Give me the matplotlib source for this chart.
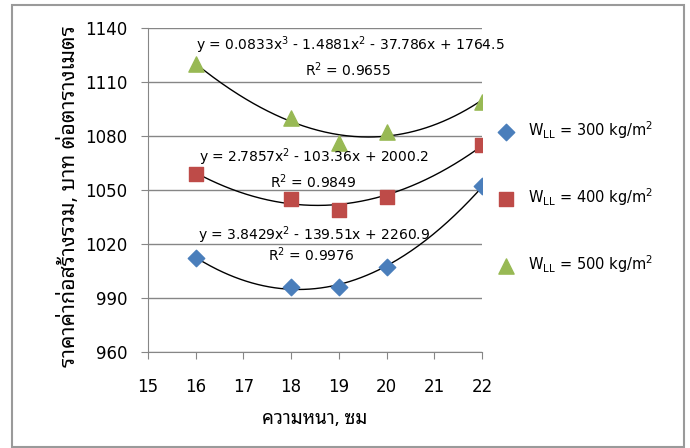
import numpy as np
import matplotlib
matplotlib.use("Agg")
import matplotlib.pyplot as plt
from matplotlib.patches import Rectangle

# thickness (cm) and total cost per m2
thickness = [16, 18, 19, 20, 22]
cost_300 = [1012, 996, 996, 1007, 1052]
cost_400 = [1059, 1045, 1039, 1046, 1075]
cost_500 = [1120, 1090, 1076, 1082, 1099]

# trendline coefficients shown on the chart
fit_300 = [3.8429, -139.51, 2260.9]
fit_400 = [2.7857, -103.36, 2000.2]
fit_500 = [0.0833, -1.4881, -37.786, 1764.5]

labels = [r"W$_{\rm LL}$ = 300 kg/m$^2$", r"W$_{\rm LL}$ = 400 kg/m$^2$", r"W$_{\rm LL}$ = 500 kg/m$^2$"]
x_ticks = [15, 16, 17, 18, 19, 20, 21, 22]
y_ticks = [960, 990, 1020, 1050, 1080, 1110, 1140]

thai = ['Noto Sans Thai Looped', 'DejaVu Sans']

fig = plt.figure(figsize=(6.9, 4.48), dpi=100)
ax = fig.add_axes([0.2145, 0.2143, 0.4841, 0.7232])

# border around the whole chart
fig.patches.append(Rectangle((12 / 690, 1 - 447 / 448), 672 / 690, 442 / 448,
                             transform=fig.transFigure, fill=False,
                             edgecolor='#9a9a9a', linewidth=1.5))

xs = np.linspace(16, 22, 200)
for fit in [fit_300, fit_400, fit_500]:
    ax.plot(xs, np.polyval(fit, xs), color='black', linewidth=1, zorder=2)

ax.scatter(thickness, cost_300, marker='D', s=70, color='#4a7ebb', label=labels[0], zorder=3)
ax.scatter(thickness, cost_400, marker='s', s=110, color='#be4b48', label=labels[1], zorder=3)
ax.scatter(thickness, cost_500, marker='^', s=120, color='#98b954', label=labels[2], zorder=3)

ax.set_xlim(15, 22)
ax.set_ylim(960, 1140)
ax.set_xticks(x_ticks)
ax.set_yticks(y_ticks)
ax.grid(axis='y', color='#868686', linewidth=1)
ax.set_axisbelow(True)
for s in ['top', 'right']:
    ax.spines[s].set_visible(False)
for s in ['left', 'bottom']:
    ax.spines[s].set_color('#868686')
ax.tick_params(colors='#868686', length=5, labelsize=12, labelcolor='black')
ax.tick_params(axis='x', pad=14)
ax.tick_params(axis='y', pad=10)

# trendline equations
eq_kw = dict(fontsize=10, ha='center', va='center', zorder=4)
ax.text(0.605, 0.948, r"y = 0.0833x$^3$ - 1.4881x$^2$ - 37.786x + 1764.5", transform=ax.transAxes, **eq_kw)
ax.text(0.60, 0.87, r"R$^2$ = 0.9655", transform=ax.transAxes, **eq_kw)
ax.text(0.497, 0.602, r"y = 2.7857x$^2$ - 103.36x + 2000.2", transform=ax.transAxes, **eq_kw)
ax.text(0.494, 0.525, r"R$^2$ = 0.9849", transform=ax.transAxes, **eq_kw)
ax.text(0.497, 0.361, r"y = 3.8429x$^2$ - 139.51x + 2260.9", transform=ax.transAxes, **eq_kw)
ax.text(0.49, 0.30, r"R$^2$ = 0.9976", transform=ax.transAxes, **eq_kw)

ax.set_xlabel("ความหนา, ซม", family=thai, fontsize=13.5, labelpad=10)
ax.set_ylabel("ราคาค่าก่อสร้างรวม, บาท ต่อตารางเมตร", family=thai, fontsize=15.3)
ax.yaxis.set_label_coords(-0.204, 0.481)

ax.legend(loc='center left', bbox_to_anchor=(1.01, 0.478), frameon=False,
          fontsize=10.5, labelspacing=3.1, handletextpad=0.5, borderaxespad=0)

fig.savefig("out.png", dpi=100)
